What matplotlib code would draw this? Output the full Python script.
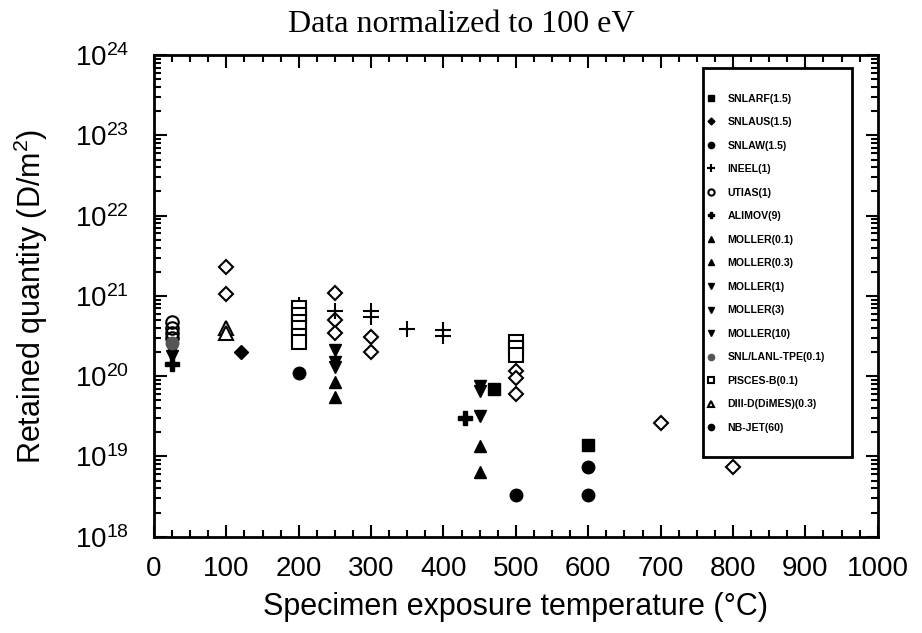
import matplotlib
matplotlib.use('Agg')
import matplotlib.pyplot as plt
from matplotlib.patches import Rectangle
from matplotlib.ticker import LogLocator, MultipleLocator, NullFormatter
import numpy as np

plt.rcParams['font.family'] = ['Liberation Sans', 'DejaVu Sans']
plt.rcParams['mathtext.default'] = 'regular'

# data (temperature in C, retained D in D/m^2)
snlarf_t = [470, 600]
snlarf_q = [7e19, 1.4e19]
snlaus_t = [120]
snlaus_q = [2e20]
snlaw_t = [200, 600, 600]
snlaw_q = [1.1e20, 7.4e18, 3.3e18]
ineel_t = [200, 250, 300, 300, 350, 400, 400]
ineel_q = [7.7e20, 6.5e20, 6.4e20, 5.5e20, 3.9e20, 3.8e20, 3.2e20]
utias_t = [25, 25, 25, 25]
utias_q = [4.8e20, 4.0e20, 3.5e20, 3.0e20]
alimov_t = [25, 430]
alimov_q = [1.4e20, 3e19]
moller01_t = [250, 450]
moller01_q = [8.5e19, 1.35e19]
moller03_t = [250, 450]
moller03_q = [5.5e19, 6.5e18]
moller1_t = [25, 250, 450]
moller1_q = [2.1e20, 2.1e20, 7.5e19]
moller3_t = [25, 250, 450]
moller3_q = [1.8e20, 1.5e20, 6.5e19]
moller10_t = [250, 450]
moller10_q = [1.3e20, 3.2e19]
tpe_t = [25]
tpe_q = [2.6e20]
pisces_t = [200, 200, 200, 200, 200, 200, 500, 500, 500]
pisces_q = [7e20, 5.8e20, 4.8e20, 4e20, 3.2e20, 2.7e20, 2.7e20, 2.25e20, 1.85e20]
diiid_t = [100, 100]
diiid_q = [4e20, 3.5e20]
nbjet_t = [500]
nbjet_q = [3.3e18]
other_t = [100, 100, 250, 250, 250, 300, 300, 500, 500, 500, 700, 800]
other_q = [2.3e21, 1.05e21, 1.1e21, 5e20, 3.5e20, 3.1e20, 2.0e20, 1.17e20, 9.5e19, 6e19, 2.6e19, 7.4e18]

fig = plt.figure(figsize=(9.22, 6.33), dpi=100)
ax = fig.add_axes([0.167, 0.152, 0.785, 0.761])

ms = 9
ax.plot(snlarf_t, snlarf_q, 's', color='black', ms=ms, label='SNLARF(1.5)')
ax.plot(snlaus_t, snlaus_q, 'D', color='black', ms=7, label='SNLAUS(1.5)')
ax.plot(snlaw_t, snlaw_q, 'o', color='black', ms=ms, label='SNLAW(1.5)')
ax.plot(ineel_t, ineel_q, '+', color='black', ms=12, mew=1.5, label='INEEL(1)')
ax.plot(utias_t, utias_q, 'o', mfc='none', mec='black', ms=ms, mew=1.5, label='UTIAS(1)')
ax.plot(alimov_t, alimov_q, 'P', color='black', ms=10, label='ALIMOV(9)')
ax.plot(moller01_t, moller01_q, '^', color='black', ms=ms, label='MOLLER(0.1)')
ax.plot(moller03_t, moller03_q, '^', color='black', ms=ms, label='MOLLER(0.3)')
ax.plot(moller1_t, moller1_q, 'v', color='black', ms=ms, label='MOLLER(1)')
ax.plot(moller3_t, moller3_q, 'v', color='black', ms=ms, label='MOLLER(3)')
ax.plot(moller10_t, moller10_q, 'v', color='black', ms=ms, label='MOLLER(10)')
ax.plot(tpe_t, tpe_q, 'o', color='#555555', ms=ms, label='SNL/LANL-TPE(0.1)')
ax.plot(pisces_t, pisces_q, 's', mfc='white', mec='black', ms=10, mew=1.5, label='PISCES-B(0.1)')
ax.plot(diiid_t, diiid_q, '^', mfc='white', mec='black', ms=10, mew=1.5, label='DIII-D(DiMES)(0.3)')
ax.plot(nbjet_t, nbjet_q, 'o', color='black', ms=ms, label='NB-JET(60)')
ax.plot(other_t, other_q, 'D', mfc='white', mec='black', ms=7.5, mew=1.5, zorder=1)

ax.set_yscale('log')
ax.set_xlim(0, 1000)
ax.set_ylim(1e18, 1e24)
ax.xaxis.set_major_locator(MultipleLocator(100))
ax.xaxis.set_minor_locator(MultipleLocator(25))
ax.yaxis.set_minor_locator(LogLocator(base=10, subs=np.arange(2, 10), numticks=20))
ax.yaxis.set_minor_formatter(NullFormatter())
ax.set_yticks([10.0 ** k for k in range(18, 25)])
ax.set_yticklabels(['$10^{%d}$' % k for k in range(18, 25)])

ax.tick_params(which='both', direction='in', top=True, right=True, width=1.5, labelsize=20)
ax.tick_params(which='major', length=9)
ax.tick_params(axis='x', which='major', pad=14)
ax.tick_params(axis='y', which='major', pad=18)
ax.tick_params(which='minor', length=5)
for sp in ax.spines.values():
    sp.set_linewidth(2)

ax.set_xlabel('Specimen exposure temperature (\u00b0C)', fontsize=22, labelpad=7)
ax.set_ylabel('Retained quantity (D/m$^2$)', fontsize=22, labelpad=18)

fig.text(0.5, 0.962, 'Data normalized to 100 eV', ha='center', va='center',
         fontsize=23, family='Liberation Serif')

# legend box drawn separately, entries placed inside it
ax.add_patch(Rectangle((0.758, 0.166), 0.207, 0.807, transform=ax.transAxes,
                       fill=True, facecolor='white', edgecolor='black', lw=2, zorder=4))
leg = ax.legend(loc='upper left', bbox_to_anchor=(0.765, 0.92),
                borderaxespad=0, borderpad=0, fontsize=7.6, labelspacing=1.28,
                handlelength=0.6, handletextpad=1.3, markerscale=0.5,
                frameon=False)
leg.set_zorder(5)
for t in leg.get_texts():
    t.set_fontweight('bold')

plt.savefig('out.png', dpi=100)
